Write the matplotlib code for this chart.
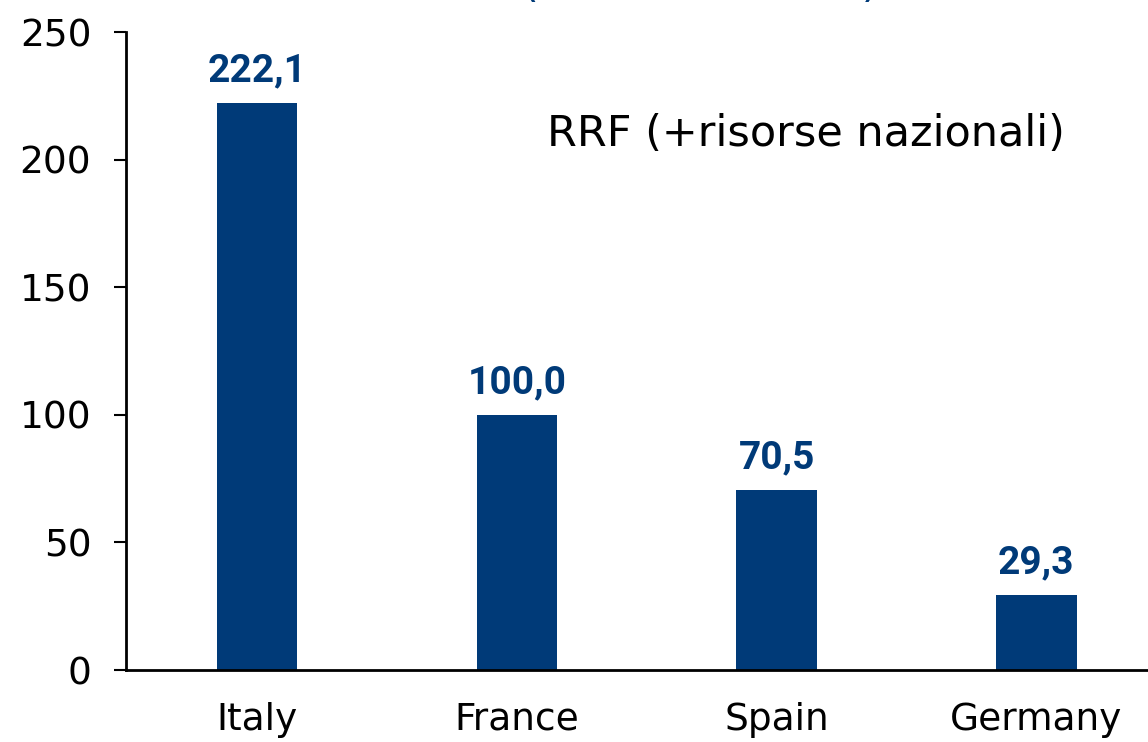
import matplotlib.pyplot as plt
import numpy as np

# data
countries = ["Italy", "France", "Spain", "Germany"]
values = [222.1, 100.0, 70.5, 29.3]
y_ticks = [0, 50, 100, 150, 200, 250]
note = "RRF (+risorse nazionali)"
title = "(miliardi di euro)"

blue = "#003A78"

plt.rcParams["font.family"] = ["DejaVu Sans"]

fig = plt.figure(figsize=(11.48, 7.42), dpi=100)
ax = fig.add_axes([0.1098, 0.097, 0.8902, 0.8598])

x = np.arange(len(countries))
bars = ax.bar(x, values, width=0.31, color=blue)

labels = [f"{v:.1f}".replace(".", ",") for v in values]
ax.bar_label(bars, labels=labels, padding=10, color=blue,
             fontsize=28, fontweight="bold", family="Roboto")

ax.set_xlim(-0.505, 3.43)
ax.set_ylim(0, 250)
ax.set_yticks(y_ticks)
ax.set_xticks(x)
ax.set_xticklabels(countries)

for side in ("top", "right"):
    ax.spines[side].set_visible(False)
for side in ("left", "bottom"):
    ax.spines[side].set_linewidth(2)

ax.tick_params(axis="y", length=9, width=1.5, pad=16, labelsize=27)
ax.tick_params(axis="x", length=0, pad=23, labelsize=27)

ax.text(1.115, 210, note, fontsize=31, va="center", ha="left")

# title sits mostly above the visible area, only the brackets peek in
fig.text(0.61, 1.004, title, fontsize=31, color=blue, ha="center",
         va="baseline")

fig.savefig("out.png", dpi=100)
